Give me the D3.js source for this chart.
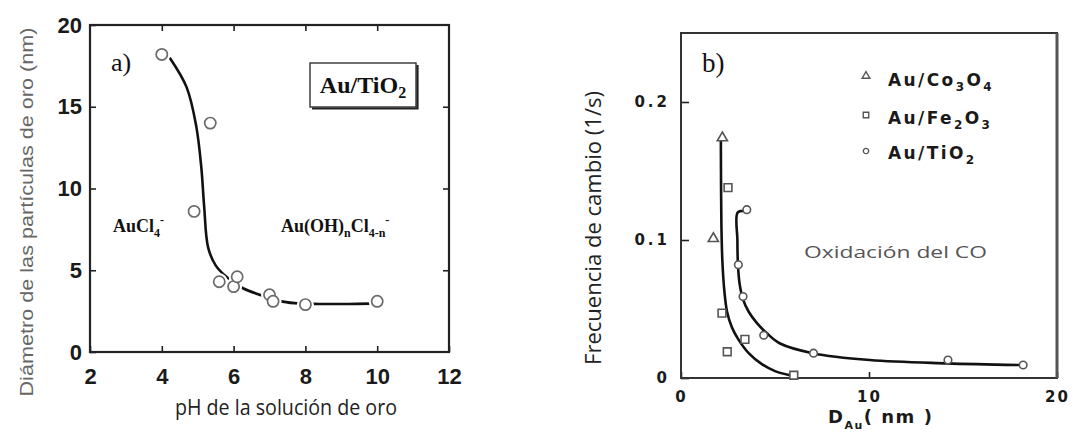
<!DOCTYPE html>
<html><head><meta charset="utf-8">
<script src="https://cdn.jsdelivr.net/npm/d3@7"></script>
<style>body{margin:0;background:#fff}</style></head>
<body><svg id="c" width="1075" height="432"></svg>
<script>
// ---------- Panel a) data ----------
const phTicks = [2, 4, 6, 8, 10, 12];
const diamTicks = [0, 5, 10, 15, 20];
const phVals   = [4.0, 4.9, 5.35, 5.6, 6.0, 6.1, 7.0, 7.1, 8.0, 10.0];
const diamVals = [18.2, 8.6, 14.0, 4.3, 4.0, 4.6, 3.5, 3.1, 2.9, 3.1];
const fitPH   = [4.22, 4.69, 4.96, 5.1, 5.18, 5.29, 5.5, 5.8, 6.26, 6.9, 7.37, 7.85, 8.39, 9.2, 9.8];
const fitDiam = [18.0, 16.2, 13.8, 11.3, 8.9, 6.4, 5.3, 4.6, 3.9, 3.38, 3.08, 2.96, 2.94, 2.94, 2.96];

// ---------- Panel b) data ----------
const dTicks = [0, 10, 20];
const tofTicks = [0, 0.1, 0.2];
const coD   = [2.2, 1.72];
const coTOF = [0.174, 0.101];
const feD   = [2.5, 2.18, 2.46, 3.4, 6.0];
const feTOF = [0.138, 0.047, 0.019, 0.028, 0.002];
const tiD   = [3.5, 3.05, 3.3, 4.4, 7.05, 14.2, 18.2];
const tiTOF = [0.122, 0.082, 0.059, 0.031, 0.018, 0.013, 0.0094];
const fit1D   = [2.12, 2.13, 2.15, 2.2, 2.3, 2.45, 2.7, 3.05, 3.6, 4.3, 5.0, 5.8];
const fit1TOF = [0.172, 0.14, 0.11, 0.085, 0.064, 0.048, 0.037, 0.028, 0.018, 0.010, 0.005, 0.002];
const fit2D   = [3.45, 3.02, 3.0, 3.03, 3.12, 3.3, 3.6, 4.03, 4.6, 5.27, 7.0, 10.05, 14.1, 18.0];
const fit2TOF = [0.121, 0.12, 0.1, 0.082, 0.068, 0.057, 0.048, 0.040, 0.032, 0.025, 0.018, 0.013, 0.0106, 0.0094];
const legendBase = ["Au/Co", "Au/Fe", "Au/TiO"];
const legendSubs = [["3", "O", "4"], ["2", "O", "3"], ["2", "", ""]];

const svg = d3.select("#c");

// =================== Panel a ===================
const xA = d3.scaleLinear().domain([2, 12]).range([90, 449]);
const yA = d3.scaleLinear().domain([0, 20]).range([352, 25]);
const gA = svg.append("g");

function styleAxis(g, font, size, weight, ls) {
  g.select(".domain").remove();
  g.selectAll(".tick line").attr("stroke", "#222").attr("stroke-width", 1.6);
  g.selectAll(".tick text").attr("font-family", font).attr("font-size", size)
    .attr("font-weight", weight).attr("fill", "#1a1a1a").style("letter-spacing", ls || 0);
}
const aFont = "'Liberation Sans Narrow', 'Arial Narrow', 'Liberation Sans', Arial, sans-serif";
gA.append("g").attr("transform", "translate(0,352)")
  .call(d3.axisBottom(xA).tickValues(phTicks).tickSize(-6).tickPadding(16))
  .call(g => styleAxis(g, aFont, 22, "bold"));
gA.append("g").attr("transform", "translate(0,25)")
  .call(d3.axisTop(xA).tickValues([4, 6, 8, 10]).tickSize(-6).tickFormat(""))
  .call(g => styleAxis(g, aFont, 22, "bold"));
gA.append("g").attr("transform", "translate(90,0)")
  .call(d3.axisLeft(yA).tickValues(diamTicks).tickSize(-6).tickPadding(8))
  .call(g => styleAxis(g, aFont, 22, "bold"));
gA.append("g").attr("transform", "translate(449,0)")
  .call(d3.axisRight(yA).tickValues([5, 10, 15]).tickSize(-6).tickFormat(""))
  .call(g => styleAxis(g, aFont, 22, "bold"));
gA.append("rect").attr("x", xA(2)).attr("y", yA(20))
  .attr("width", xA(12) - xA(2)).attr("height", yA(0) - yA(20))
  .attr("fill", "none").attr("stroke", "#222").attr("stroke-width", 2.2);

// fit curve
const lineA = d3.line().x((d, i) => xA(fitPH[i])).y((d, i) => yA(fitDiam[i]))
  .curve(d3.curveCatmullRom.alpha(0.5));
gA.append("path").attr("d", lineA(fitPH)).attr("fill", "none")
  .attr("stroke", "#111").attr("stroke-width", 2.6);
// markers with white halo
gA.selectAll("circle.h").data(phVals).join("circle")
  .attr("cx", (d) => xA(d)).attr("cy", (d, i) => yA(diamVals[i]))
  .attr("r", 8.5).attr("fill", "#fff");
gA.selectAll("circle.m").data(phVals).join("circle")
  .attr("cx", (d) => xA(d)).attr("cy", (d, i) => yA(diamVals[i]))
  .attr("r", 5.6).attr("fill", "#fff").attr("stroke", "#6a6a6a").attr("stroke-width", 1.7);

// labels
const serif = "'Liberation Serif', 'Times New Roman', serif";
gA.append("text").attr("x", 111).attr("y", 71).attr("font-family", serif)
  .attr("font-size", 26).attr("fill", "#111").text("a)");
// Au/TiO2 box
gA.append("rect").attr("x", 310).attr("y", 63).attr("width", 106).attr("height", 44)
  .attr("fill", "#fff").attr("stroke", "#333").attr("stroke-width", 1.4);
gA.append("path").attr("d", "M312,108.5 H417.5 V65").attr("fill", "none")
  .attr("stroke", "#222").attr("stroke-width", 2.2);
const tb = gA.append("text").attr("x", 363).attr("y", 93).attr("text-anchor", "middle")
  .attr("font-family", serif).attr("font-size", 24).attr("font-weight", "bold").attr("fill", "#111");
tb.append("tspan").text("Au/TiO");
tb.append("tspan").attr("font-size", 16).attr("dy", 5).text("2");

const t1 = gA.append("text").attr("x", 113).attr("y", 232).attr("font-family", serif)
  .attr("font-size", 18).attr("font-weight", "bold").attr("fill", "#111");
t1.append("tspan").text("AuCl");
t1.append("tspan").attr("font-size", 12).attr("dy", 5).text("4");
t1.append("tspan").attr("font-size", 12).attr("dy", -13).text("-");

const t2 = gA.append("text").attr("x", 281).attr("y", 232).attr("font-family", serif)
  .attr("font-size", 18).attr("font-weight", "bold").attr("fill", "#111");
t2.append("tspan").text("Au(OH)");
t2.append("tspan").attr("font-size", 12).attr("dy", 5).text("n");
t2.append("tspan").attr("dy", -5).text("Cl");
t2.append("tspan").attr("font-size", 12).attr("dy", 5).text("4-n");
t2.append("tspan").attr("font-size", 12).attr("dy", -13).text("-");

// axis titles
svg.append("text").attr("transform", "translate(33,212) rotate(-90)")
  .attr("text-anchor", "middle").attr("font-family", "'Liberation Sans', Arial, sans-serif")
  .attr("font-size", 18).attr("fill", "#666")
  .attr("textLength", 369).attr("lengthAdjust", "spacingAndGlyphs")
  .text("Diámetro de las partículas de oro (nm)");
svg.append("text").attr("x", 286).attr("y", 415).attr("text-anchor", "middle")
  .attr("font-family", "'Open Sans', sans-serif").attr("font-size", 21).attr("fill", "#222")
  .attr("textLength", 222).attr("lengthAdjust", "spacingAndGlyphs")
  .text("pH de la solución de oro");

// =================== Panel b ===================
const xB = d3.scaleLinear().domain([0, 20]).range([681, 1057]);
const yB = d3.scaleLinear().domain([0, 0.25]).range([378, 33]);
const gB = svg.append("g");
const bFont = "'DejaVu Sans', Verdana, sans-serif";

gB.append("g").attr("transform", "translate(681,0)")
  .call(d3.axisLeft(yB).tickValues(tofTicks).tickSize(-8).tickPadding(11)
    .tickFormat(d => d === 0 ? "0" : d3.format(".1f")(d)))
  .call(g => styleAxis(g, bFont, 15, "bold", "3px"));
gB.append("g").attr("transform", "translate(0,378)")
  .call(d3.axisBottom(xB).tickValues(dTicks).tickSize(-6).tickPadding(13))
  .call(g => styleAxis(g, bFont, 15, "bold", "2px"));
gB.append("rect").attr("x", xB(0)).attr("y", yB(0.25))
  .attr("width", xB(20) - xB(0)).attr("height", yB(0) - yB(0.25))
  .attr("fill", "none").attr("stroke", "#333").attr("stroke-width", 2);
gB.append("line").attr("x1", xB(20)).attr("x2", xB(20)).attr("y1", yB(0.25)).attr("y2", yB(0))
  .attr("stroke", "#555").attr("stroke-width", 3);

const lineB = (xs, ys) => d3.line().x((d, i) => xB(xs[i])).y((d, i) => yB(ys[i]))
  .curve(d3.curveCatmullRom.alpha(0.5))(xs);
gB.append("path").attr("d", lineB(fit1D, fit1TOF)).attr("fill", "none")
  .attr("stroke", "#111").attr("stroke-width", 2.6);
gB.append("path").attr("d", lineB(fit2D, fit2TOF)).attr("fill", "none")
  .attr("stroke", "#111").attr("stroke-width", 2.6);

const mk = (type, size) => d3.symbol().type(type).size(size)();
function markers(xs, ys, type, size) {
  gB.append("g").selectAll("path").data(xs).join("path")
    .attr("transform", (d, i) => `translate(${xB(d)},${yB(ys[i])})`)
    .attr("d", mk(type, size)).attr("fill", "#fff").attr("stroke", "#555").attr("stroke-width", 1.6);
}
markers(coD, coTOF, d3.symbolTriangle, 45);
markers(feD, feTOF, d3.symbolSquare, 60);
markers(tiD, tiTOF, d3.symbolCircle, 45);

gB.append("text").attr("x", 702).attr("y", 72).attr("font-family", serif)
  .attr("font-size", 27).attr("fill", "#111").text("b)");

// legend
const legTypes = [d3.symbolTriangle, d3.symbolSquare, d3.symbolCircle];
const legSizes = [26, 30, 22];
const legSymY = [76, 115, 151];
const legTxtY = [86, 124, 159];
legendBase.forEach((lab, i) => {
  gB.append("path").attr("transform", `translate(866,${legSymY[i]})`)
    .attr("d", mk(legTypes[i], legSizes[i])).attr("fill", "#fff")
    .attr("stroke", "#555").attr("stroke-width", 1.4);
  const t = gB.append("text").attr("x", 888).attr("y", legTxtY[i]).attr("font-family", bFont)
    .attr("font-size", 17).attr("font-weight", "bold").attr("fill", "#1a1a1a")
    .style("letter-spacing", "2.4px");
  t.append("tspan").text(lab);
  const s = legendSubs[i];
  t.append("tspan").attr("font-size", 12).attr("dy", 5).text(s[0]);
  if (s[1]) {
    t.append("tspan").attr("dy", -5).text(s[1]);
    t.append("tspan").attr("font-size", 12).attr("dy", 5).text(s[2]);
  }
});

gB.append("text").attr("x", 804).attr("y", 258).attr("font-family", "'Open Sans', sans-serif")
  .attr("font-size", 17).attr("fill", "#555")
  .attr("textLength", 183).attr("lengthAdjust", "spacingAndGlyphs").text("Oxidación del CO");

svg.append("text").attr("transform", "translate(601,228) rotate(-90)")
  .attr("text-anchor", "middle").attr("font-family", "'Open Sans', sans-serif")
  .attr("font-size", 22).attr("fill", "#222")
  .attr("textLength", 274).attr("lengthAdjust", "spacingAndGlyphs")
  .text("Frecuencia de cambio (1/s)");

const xl = svg.append("text").attr("x", 828).attr("y", 423).attr("font-family", bFont)
  .attr("font-size", 18).attr("font-weight", "bold").attr("fill", "#1a1a1a")
  .style("letter-spacing", "1.5px");
xl.append("tspan").text("D");
xl.append("tspan").attr("font-size", 11).attr("dy", 6).text("Au");
xl.append("tspan").attr("dy", -6).text("( nm )");
</script></body></html>
